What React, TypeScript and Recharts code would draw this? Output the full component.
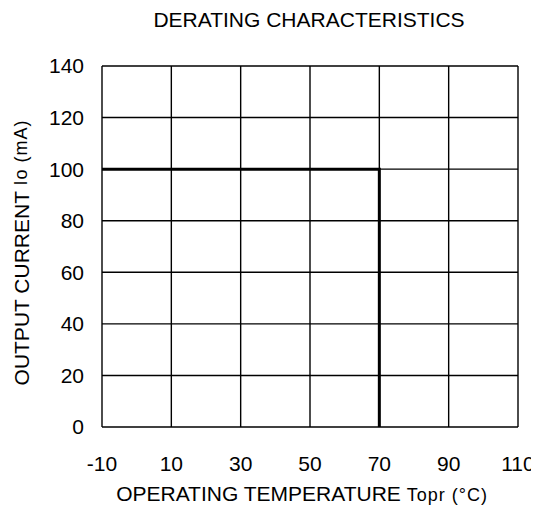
import React from 'react';
import { LineChart, Line, XAxis, YAxis, CartesianGrid, Label } from 'recharts';

// derating curve: full current up to 70°C, then cut off
const temps = [-10, 70, 70];
const currents = [100, 100, 0];

const xTicks = [-10, 10, 30, 50, 70, 90, 110];
const yTicks = [0, 20, 40, 60, 80, 100, 120, 140];

const data = temps.map((t, i) => ({ t, io: currents[i] }));

const FONT = '"Liberation Sans", Arial, sans-serif';

const XTitle = ({ viewBox }: any) => {
  const cx = viewBox.x + viewBox.width / 2 - 8;
  return (
    <text x={cx} y={viewBox.y + 74} textAnchor="middle" fontFamily={FONT} fill="#000">
      <tspan fontSize={21}>OPERATING TEMPERATURE </tspan>
      <tspan fontSize={18} letterSpacing={1}>Topr (°C)</tspan>
    </text>
  );
};

const YTitle = ({ viewBox }: any) => {
  const cx = 13;
  const cy = viewBox.y + viewBox.height / 2 + 6;
  return (
    <text
      x={cx}
      y={cy}
      textAnchor="middle"
      dominantBaseline="central"
      fontFamily={FONT}
      fill="#000"
      transform={`rotate(-90, ${cx}, ${cy})`}
    >
      <tspan fontSize={21}>OUTPUT CURRENT  </tspan>
      <tspan fontSize={18} letterSpacing={1}>Io (mA)</tspan>
    </text>
  );
};

export default function App() {
  return (
    <div style={{ position: 'relative', width: 531, height: 502, fontFamily: FONT }}>
      <div
        style={{
          position: 'absolute',
          top: 0,
          left: 0,
          width: 602,
          textAlign: 'center',
          fontSize: 21,
          color: '#000'
        }}
      >
        DERATING CHARACTERISTICS
      </div>
      <LineChart width={531} height={502} data={data} margin={{ top: 58, right: 21, left: 0, bottom: 23 }}>
        <CartesianGrid stroke="#000" strokeWidth={1.4} />
        <XAxis
          dataKey="t"
          type="number"
          domain={[-10, 110]}
          ticks={xTicks}
          axisLine={false}
          tickLine={false}
          tickSize={0}
          tickMargin={29}
          height={60}
          tick={{ fill: '#000', fontSize: 21, fontFamily: FONT }}
          interval={0}
        >
          <Label content={XTitle} />
        </XAxis>
        <YAxis
          type="number"
          domain={[0, 140]}
          ticks={yTicks}
          axisLine={false}
          tickLine={false}
          tickSize={0}
          tickMargin={18}
          width={94}
          tick={{ fill: '#000', fontSize: 21, fontFamily: FONT }}
          interval={0}
        >
          <Label content={YTitle} />
        </YAxis>
        <Line
          dataKey="io"
          type="linear"
          stroke="#000"
          strokeWidth={3}
          dot={false}
          activeDot={false}
          isAnimationActive={false}
        />
      </LineChart>
    </div>
  );
}
